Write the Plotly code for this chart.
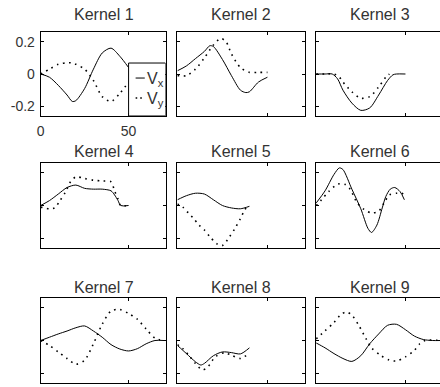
import plotly.graph_objects as go
from plotly.subplots import make_subplots

titles = ["Kernel 1", "Kernel 2", "Kernel 3", "Kernel 4", "Kernel 5",
          "Kernel 6", "Kernel 7", "Kernel 8", "Kernel 9"]

# kernel 1
k1_t = [0, 5, 10, 15, 18, 20, 25, 30, 35, 40, 45, 50]
k1_vx = [0, -0.02, -0.07, -0.13, -0.17, -0.165, -0.09, 0.03, 0.13, 0.16, 0.11, 0.04]
k1_vy = [0, 0.03, 0.06, 0.07, 0.068, 0.06, 0.03, -0.04, -0.14, -0.17, -0.12, -0.05]

# kernel 2
k2_tx = [0, 5, 10, 15, 18, 20, 25, 30, 35, 38, 40, 45, 50]
k2_vx = [0.02, 0.05, 0.095, 0.14, 0.175, 0.17, 0.09, -0.01, -0.10, -0.115, -0.11, -0.05, -0.02]
k2_ty = [0, 5, 10, 15, 20, 24, 27, 30, 35, 40, 45, 50]
k2_vy = [-0.01, -0.01, 0.03, 0.10, 0.18, 0.22, 0.2, 0.125, 0.04, 0.01, 0.01, 0.01]

# kernel 3
k3_tx = [0, 5, 9, 12, 15, 20, 25, 30, 35, 40, 43, 45, 50]
k3_vx = [0, 0, 0, -0.03, -0.1, -0.18, -0.225, -0.21, -0.13, -0.04, -0.005, 0, 0]
k3_ty = [0, 5, 10, 13, 15, 20, 25, 30, 35, 39, 41]
k3_vy = [0, 0, 0, -0.02, -0.05, -0.11, -0.15, -0.14, -0.08, -0.02, 0]

# kernel 4
k4_tx = [0, 5, 10, 15, 20, 25, 30, 35, 40, 42, 44, 45.5, 50]
k4_vx = [0, 0.03, 0.07, 0.11, 0.125, 0.105, 0.1, 0.1, 0.09, 0.065, 0.03, 0, 0]
k4_ty = [0, 5, 8, 11, 14, 17, 20, 25, 30, 35, 40, 42, 44, 45.5, 50]
k4_vy = [-0.01, -0.02, -0.015, 0.03, 0.08, 0.145, 0.175, 0.165, 0.155, 0.15, 0.145, 0.09, 0.04, 0, 0]

# kernel 5
k5_tx = [0, 5, 10, 15, 20, 25, 30, 35, 40]
k5_vx = [0.035, 0.06, 0.075, 0.07, 0.035, 0, -0.015, -0.02, -0.005]
k5_ty = [0, 3, 6, 9, 12, 15, 18, 22, 25, 29, 32, 35, 37, 39]
k5_vy = [0.01, -0.01, -0.045, -0.08, -0.12, -0.15, -0.19, -0.235, -0.245, -0.19, -0.14, -0.08, -0.035, 0]

# kernel 6
k6_tx = [0, 5, 10, 13, 15, 20, 25, 29, 31, 34, 37, 39, 41.5, 44, 47, 49.4]
k6_vx = [0.015, 0.09, 0.19, 0.23, 0.22, 0.1, -0.02, -0.14, -0.165, -0.12, -0.015, 0.055, 0.1, 0.11, 0.085, 0.035]
k6_ty = [0, 3, 7, 12, 16, 19, 23, 27, 31, 35, 38, 41, 45, 48, 50]
k6_vy = [0, 0.035, 0.085, 0.13, 0.13, 0.1, 0.015, -0.025, -0.045, -0.035, 0.015, 0.065, 0.075, 0.075, 0.055]

# kernel 7
k7_t = [0, 5, 10, 15, 20, 25, 30, 35, 40, 45, 50, 55, 60, 65, 70]
k7_vx = [0, 0.02, 0.04, 0.058, 0.078, 0.089, 0.058, 0.02, -0.025, -0.052, -0.064, -0.05, -0.02, 0, 0]
k7_vy = [0, -0.03, -0.07, -0.11, -0.145, -0.12, -0.02, 0.1, 0.18, 0.19, 0.165, 0.13, 0.07, 0.015, 0]

# kernel 8
k8_tx = [0, 5, 10, 13, 15, 20, 25, 30, 35, 40]
k8_vx = [-0.03, -0.08, -0.13, -0.15, -0.14, -0.093, -0.07, -0.074, -0.082, -0.045]
k8_ty = [0, 3, 7, 10, 14, 17, 21, 26, 30, 35, 39]
k8_vy = [-0.025, -0.05, -0.1, -0.14, -0.18, -0.16, -0.1, -0.075, -0.09, -0.11, -0.085]

# kernel 9
k9_tx = [0, 5, 10, 15, 20, 25, 30, 35, 40, 45, 50, 55, 60, 65, 70]
k9_vx = [-0.015, -0.045, -0.08, -0.11, -0.128, -0.093, -0.02, 0.04, 0.093, 0.099, 0.066, 0.027, 0.006, 0, 0]
k9_ty = [0, 5, 10, 14, 17, 20, 24, 28, 31, 36, 41, 45, 50, 55, 58, 61, 70]
k9_vy = [0.01, 0.06, 0.11, 0.16, 0.175, 0.155, 0.09, 0.01, -0.045, -0.09, -0.12, -0.125, -0.1, -0.06, -0.02, 0, 0]

kernels = [
    (k1_t, k1_vx, k1_t, k1_vy),
    (k2_tx, k2_vx, k2_ty, k2_vy),
    (k3_tx, k3_vx, k3_ty, k3_vy),
    (k4_tx, k4_vx, k4_ty, k4_vy),
    (k5_tx, k5_vx, k5_ty, k5_vy),
    (k6_tx, k6_vx, k6_ty, k6_vy),
    (k7_t, k7_vx, k7_t, k7_vy),
    (k8_tx, k8_vx, k8_ty, k8_vy),
    (k9_tx, k9_vx, k9_ty, k9_vy),
]

W, H = 440, 387
col_px = [(37, 163), (175, 304), (315, 440)]
row_px = [(32, 116), (163, 248), (298, 383)]
title_px = [15, 151, 287]
FONT = "Liberation Sans, Arial, sans-serif"
TXT = "#333"

fig = make_subplots(rows=3, cols=3)

for i, (tx, vx, ty, vy) in enumerate(kernels):
    r, c = i // 3 + 1, i % 3 + 1
    fig.add_trace(go.Scatter(x=tx, y=vx, mode="lines", name="V<sub>x</sub>",
                             line=dict(color="black", width=1, shape="spline", smoothing=0.8),
                             showlegend=False), row=r, col=c)
    fig.add_trace(go.Scatter(x=ty, y=vy, mode="lines", name="V<sub>y</sub>",
                             line=dict(color="black", width=1.6, dash="1.6px,4.6px",
                                       shape="spline", smoothing=0.8),
                             showlegend=False), row=r, col=c)

    x0, x1 = col_px[c - 1]
    y0, y1 = row_px[r - 1]
    xmax = 71 if c < 3 else 71 * (x1 - x0) / 128
    first = i == 0
    fig.update_xaxes(domain=[x0 / W, x1 / W], range=[0, xmax],
                     tickvals=[0, 50], ticktext=["0", "50"],
                     showticklabels=first, row=r, col=c)
    fig.update_yaxes(domain=[1 - y1 / H, 1 - y0 / H], range=[-0.26, 0.26],
                     tickvals=[-0.2, 0, 0.2], ticktext=["-0.2", "0", "0.2"],
                     showticklabels=first, mirror="ticks" if c < 3 else False,
                     row=r, col=c)
    fig.add_annotation(text=titles[i], xref="paper", yref="paper",
                       x=(x0 + 64) / W, y=1 - title_px[r - 1] / H,
                       xanchor="center", yanchor="middle", showarrow=False,
                       font=dict(size=16, color=TXT, family=FONT))

fig.update_xaxes(showline=True, linecolor="black", linewidth=1, mirror="ticks",
                 ticks="inside", ticklen=3, tickcolor="black", showgrid=False,
                 zeroline=False, ticklabelstandoff=2,
                 tickfont=dict(size=14, color=TXT, family=FONT))
fig.update_yaxes(showline=True, linecolor="black", linewidth=1,
                 ticks="inside", ticklen=3, tickcolor="black", showgrid=False,
                 zeroline=False, ticklabelstandoff=2,
                 tickfont=dict(size=14, color=TXT, family=FONT))

# legend box in Kernel 1
fig.add_shape(type="rect", xref="x", yref="y", x0=50, x1=71, y0=-0.26, y1=0.068,
              fillcolor="white", line=dict(color="black", width=1), layer="above")
fig.add_shape(type="line", xref="x", yref="y", x0=54, x1=59.2, y0=-0.025, y1=-0.025,
              line=dict(color="black", width=1), layer="above")
fig.add_shape(type="line", xref="x", yref="y", x0=54, x1=59.2, y0=-0.149, y1=-0.149,
              line=dict(color="black", width=1.6, dash="1.6px,3px"), layer="above")
fig.add_annotation(text="V<sub>x</sub>", xref="x", yref="y", x=59.5, y=-0.032,
                   xanchor="left", yanchor="middle", showarrow=False,
                   font=dict(size=16, color=TXT, family=FONT))
fig.add_annotation(text="V<sub>y</sub>", xref="x", yref="y", x=59.5, y=-0.158,
                   xanchor="left", yanchor="middle", showarrow=False,
                   font=dict(size=16, color=TXT, family=FONT))

fig.update_layout(width=W, height=H, margin=dict(l=0, r=0, t=0, b=0),
                  paper_bgcolor="white", plot_bgcolor="white", showlegend=False)

# page body has a default 8px margin; drop it so the figure sits at the window origin
fig.write_html("out.html", config={"displayModeBar": False},
               post_script="document.body.style.margin='0';")
